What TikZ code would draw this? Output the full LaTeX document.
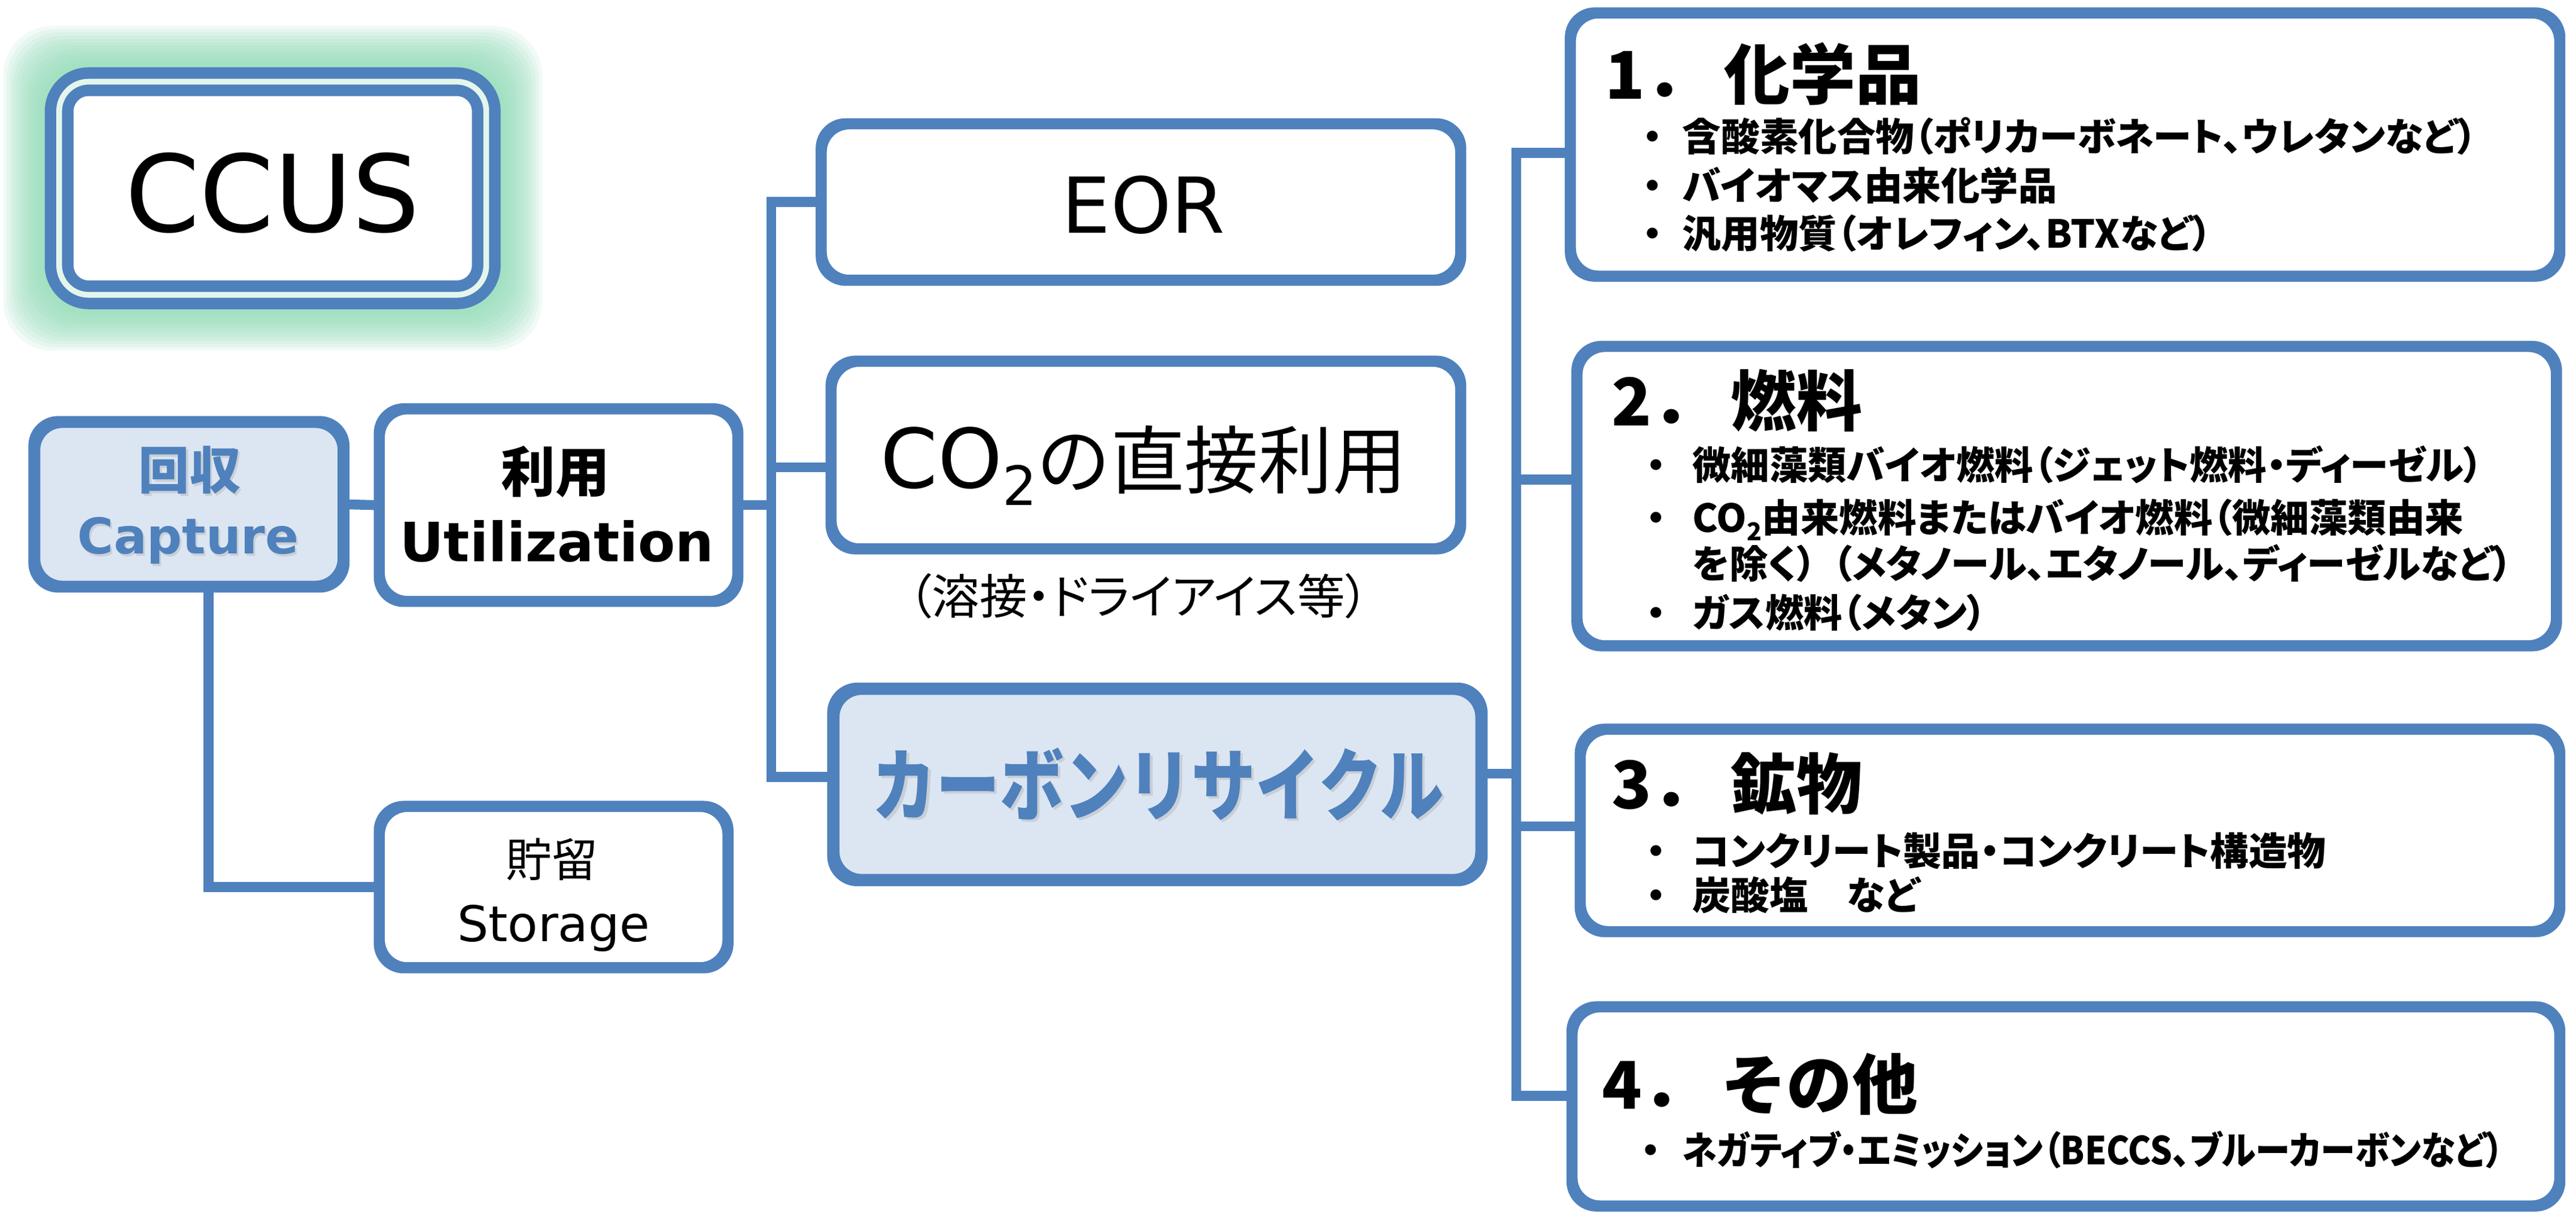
\documentclass[tikz,border=0pt]{standalone}
\usepackage{fontspec}
\setmainfont{DejaVu Sans}
\newfontfamily\lat{DejaVu Sans}
\newfontfamily\jp{Noto Sans CJK JP}
\newfontfamily\jpp{Noto Sans CJK JP}[RawFeature=+palt]
\newfontfamily\jpq{Noto Sans CJK JP}[RawFeature=+palt, FakeStretch=0.9]
\newfontfamily\jpc{Noto Sans CJK JP}[FakeStretch=0.81]
\definecolor{ccblue}{HTML}{4F81BD}
\definecolor{ccfill}{HTML}{DCE6F2}
\definecolor{ccglow}{HTML}{8FDCB6}
\definecolor{ccgap}{HTML}{E4F6EC}
\newcommand\fs[1]{\fontsize{#1}{#1}\selectfont}
\newcommand\itf{\jpp\bfseries\fs{23.5}}
\newcommand\itq{\jpq\bfseries\fs{23.5}}
\newcommand\hdf{\jp\bfseries\fs{40}}
\tikzset{
  box/.style={rectangle, draw=ccblue, line width=4.5pt, rounded corners=16pt, fill=white, inner sep=0pt},
  hibox/.style={box, fill=ccfill, line width=5pt},
  conn/.style={draw=ccblue, line width=6pt, line join=miter},
  lbl/.style={inner sep=0pt, anchor=base},
  lblw/.style={inner sep=0pt, anchor=base west},
  shd/.style={lbl, text=black!35, text opacity=0.35},
}
\begin{document}
\begin{tikzpicture}[x=1pt,y=-1pt]
\fill[white] (0,0) rectangle (1568,746.3);
\useasboundingbox (0,0) rectangle (1568,746.3);

% ---- CCUS with glow
\foreach \d in {34,32,30,28,26,24,22,20,18,16,14,12,10,8}{
  \fill[ccglow, fill opacity=0.12, rounded corners=30pt] ({36-\d},{49.75-\d}) rectangle ({296+\d},{179.5+\d});
}
\node[rectangle, draw=ccblue, double=ccgap, double distance=3.5pt, line width=7pt, rounded corners=18pt, fill=white,
      minimum width=260pt, minimum height=129.75pt, inner sep=0pt] (ccus) at (166,114.6) {};
\node[lbl, font={\lat\fs{65}}] (ccust) at (166,141.2) {CCUS};

% ---- connector junctions
\coordinate (l1) at (469.5,123);
\coordinate (l3) at (469.5,284.5);
\coordinate (l4) at (469.5,473);
\coordinate (r1) at (923,93);
\coordinate (r2) at (923,292);
\coordinate (r3) at (923,503);
\coordinate (rc) at (923,471);
\coordinate (r4) at (923,667);
\coordinate (cv) at (127,356);

% ---- boxes
\node[hibox, minimum width=186pt, minimum height=98pt] (cap) at (115,307) {};
\node[box, minimum width=216pt, minimum height=115pt] (util) at (340,307.5) {};
\node[box, minimum width=210pt, minimum height=96pt] (sto) at (337,540) {};
\node[box, minimum width=387pt, minimum height=93pt] (eor) at (694.5,123) {};
\node[box, minimum width=381pt, minimum height=112pt] (co2) at (697.5,277) {};
\node[hibox, minimum width=392pt, minimum height=114pt] (crb) at (704.5,477.5) {};
\node[box, minimum width=600pt, minimum height=158pt] (b1) at (1257,88) {};
\node[box, minimum width=594pt, minimum height=180pt] (b2) at (1258,302) {};
\node[box, minimum width=594pt, minimum height=121pt] (b3) at (1260,505.5) {};
\node[box, minimum width=599pt, minimum height=119pt] (b4) at (1257.5,673.5) {};

% ---- connectors
\draw[conn] (cap.east) -- (util.east -| util.west);
\draw[conn] (cv) |- (sto.west);
\draw[conn] (l1 -| eor.west) -- (l1) -- (l4) -- (l4 -| crb.west);
\draw[conn] (util.east) -- (util.east -| l1);
\draw[conn] (l3) -- (l3 -| co2.west);
\draw[conn] (r1 -| b1.west) -- (r1) -- (r4) -- (r4 -| b4.west);
\draw[conn] (r2) -- (r2 -| b2.west);
\draw[conn] (r3) -- (r3 -| b3.west);
\draw[conn] (rc -| crb.east) -- (rc);

% redraw box borders over connector ends
\foreach \n in {cap,util,sto,eor,co2,b1,b2,b3,b4}{
  \draw[ccblue, line width=4.5pt, rounded corners=16pt] (\n.north west) rectangle (\n.south east);
}
\draw[ccblue, line width=5pt, rounded corners=16pt] (crb.north west) rectangle (crb.south east);

% ---- left texts
\node[shd, font={\jp\bfseries\fs{31}}] (capjs) at (116.7,299.2) {回収};
\node[lbl, font={\jp\bfseries\fs{31}}, text=ccblue] (capj) at (115.5,297.8) {回収};
\node[shd, font={\lat\bfseries\fs{30}}] (capes) at (115.7,338.4) {Capture};
\node[lbl, font={\lat\bfseries\fs{30}}, text=ccblue] (cape) at (114.5,337) {Capture};
\node[lbl, font={\jp\bfseries\fs{33}}] (utilj) at (338,299.5) {利用};
\node[lbl, font={\lat\bfseries\fs{33}}] (utile) at (339,342) {Utilization};
\node[lbl, font={\jp\fs{28}}] (stoj) at (336,533.6) {貯留};
\node[lbl, font={\lat\fs{30}}] (stoe) at (337,573) {Storage};

% ---- middle texts
\node[lbl, font={\lat\fs{47}}] (eort) at (696,142) {EOR};
\node[lbl] (co2t) at (696,297) {{\lat\fs{50}CO}\raisebox{-10.7pt}{\lat\fs{33}2}{\jp\fs{45}の直接利用}};
\node[lbl, font={\jpp\fs{29}}] (co2n) at (693,374) {（溶接・ドライアイス等）};
\node[shd, font={\jpc\bfseries\fs{48}}] (crbts) at (706.5,497.5) {カーボンリサイクル};
\node[lbl, font={\jpc\bfseries\fs{48}}, text=ccblue] (crbt) at (705,496) {カーボンリサイクル};

% ---- right box 1
\node[lblw, font=\hdf] (b1h) at (977,60.2) {1．\hspace{8pt}化学品};
\node[lblw, font=\itf] (b1a) at (994,91.9) {\makebox[30pt][l]{\jp ・}含酸素化合物（ポリカーボネート、ウレタンなど）};
\node[lblw, font=\itf] (b1b) at (994,121.9) {\makebox[30pt][l]{\jp ・}バイオマス由来化学品};
\node[lblw, font=\itf] (b1c) at (994,150.9) {\makebox[30pt][l]{\jp ・}汎用物質（オレフィン、BTXなど）};

% ---- right box 2
\node[lblw, font=\hdf] (b2h) at (981,259.2) {2．\hspace{8pt}燃料};
\node[lblw, font=\itf] (b2a) at (996,291.9) {\makebox[34pt][l]{\jp ・}微細藻類バイオ燃料（ジェット燃料・ディーゼル）};
\node[lblw, font=\itf] (b2b) at (996,323.9) {\makebox[34pt][l]{\jp ・}CO\raisebox{-5pt}{\fs{15}2}由来燃料またはバイオ燃料（微細藻類由来};
\node[lblw, font=\itf] (b2c) at (1030,351.9) {を除く）\hspace{10pt}（メタノール、エタノール、ディーゼルなど）};
\node[lblw, font=\itf] (b2d) at (996,381.9) {\makebox[34pt][l]{\jp ・}ガス燃料（メタン）};

% ---- right box 3
\node[lblw, font=\hdf] (b3h) at (981,492.2) {3．\hspace{8pt}鉱物};
\node[lblw, font=\itf] (b3a) at (996,526.9) {\makebox[34pt][l]{\jp ・}コンクリート製品・コンクリート構造物};
\node[lblw, font=\itf] (b3b) at (996,553.9) {\makebox[34pt][l]{\jp ・}炭酸塩　など};

% ---- right box 4
\node[lblw, font=\hdf] (b4h) at (975,675.2) {4．\hspace{8pt}その他};
\node[lblw, font=\itq] (b4a) at (993,708.9) {\makebox[31pt][l]{\jp ・}ネガティブ・エミッション（BECCS、ブルーカーボンなど）};
\end{tikzpicture}
\end{document}
